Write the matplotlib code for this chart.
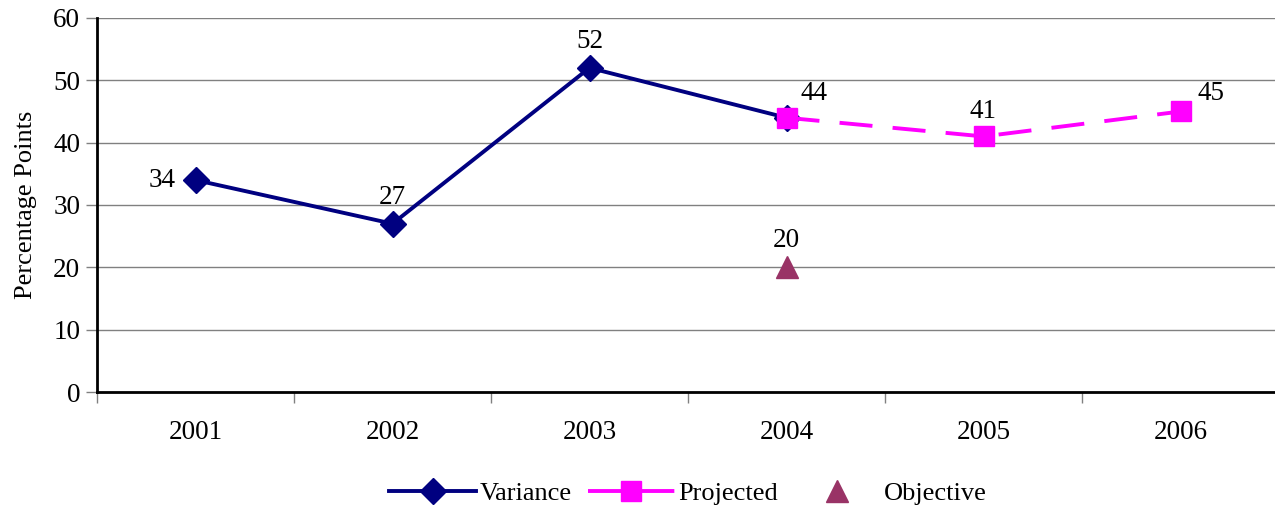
import matplotlib
matplotlib.use("Agg")
import matplotlib.pyplot as plt

years = ["2001", "2002", "2003", "2004", "2005", "2006"]
variance = [34, 27, 52, 44]
projected = [44, 41, 45]
objective = [20]
yticks = [0, 10, 20, 30, 40, 50, 60]

FS = 19.5
plt.rcParams['font.family'] = ['Liberation Serif', 'DejaVu Serif']
fig = plt.figure(figsize=(12.75, 5.08), dpi=100)
ax = fig.add_axes([97/1275, 116/508, 1182/1275, 374/508])

xv = list(range(len(variance)))
xp = list(range(3, 3 + len(projected)))
xo = [3]

ax.plot(xv, variance, color='#000080', lw=2.8, marker='D', markersize=13,
        label='Variance', zorder=3)
ax.plot(xp, projected, color='#FF00FF', lw=2.8, dashes=(8.5, 5.2), marker='s',
        markersize=14, label='Projected', zorder=4)
ax.plot(xo, objective, linestyle='none', color='#993366', marker='^',
        markersize=16, label='Objective', zorder=4)

# data labels
offsets_v = [(-20, 0, 'right', 'center'), (0, 14, 'center', 'bottom'),
             (0, 14, 'center', 'bottom'), (0, 0, None, None)]
for x, y, (dx, dy, ha, va) in zip(xv, variance, offsets_v):
    if ha is None:
        continue
    ax.annotate(str(y), (x, y), xytext=(dx, dy), textcoords='offset pixels',
                ha=ha, va=va, fontsize=FS)
offsets_p = [(14, 12, 'left', 'bottom'), (0, 12, 'center', 'bottom'),
             (17, 5, 'left', 'bottom')]
for x, y, (dx, dy, ha, va) in zip(xp, projected, offsets_p):
    ax.annotate(str(y), (x, y), xytext=(dx, dy), textcoords='offset pixels',
                ha=ha, va=va, fontsize=FS)
for x, y in zip(xo, objective):
    ax.annotate(str(y), (x, y), xytext=(0, 14), textcoords='offset pixels',
                ha='center', va='bottom', fontsize=FS)

ax.set_xlim(-0.5, 5.5)
ax.set_ylim(0, 60)
ax.set_yticks(yticks)
ax.set_yticklabels([str(t) for t in yticks], fontsize=FS)
ax.set_xticks(range(len(years)))
ax.set_xticklabels(years, fontsize=FS)
ax.set_xticks([i - 0.5 for i in range(len(years) + 1)], minor=True)
ax.tick_params(axis='x', which='major', length=0, pad=20)
ax.tick_params(axis='x', which='minor', length=8, width=1, color='#808080', direction='out')
ax.tick_params(axis='y', length=8, width=1, color='#808080', direction='out', pad=4)
ax.yaxis.grid(True, color='#808080', lw=1)
ax.set_axisbelow(True)
for s in ['top', 'right']:
    ax.spines[s].set_visible(False)
ax.spines['left'].set_linewidth(2)
ax.spines['bottom'].set_linewidth(2)
ax.set_ylabel('Percentage Points', fontsize=19, labelpad=12)

fig.legend(loc='center', bbox_to_anchor=(688/1275, 1 - 493/508), ncol=3,
           frameon=False, fontsize=19, handlelength=3.3, columnspacing=0.6,
           handletextpad=0.12)

fig.savefig('out.png', dpi=100)
